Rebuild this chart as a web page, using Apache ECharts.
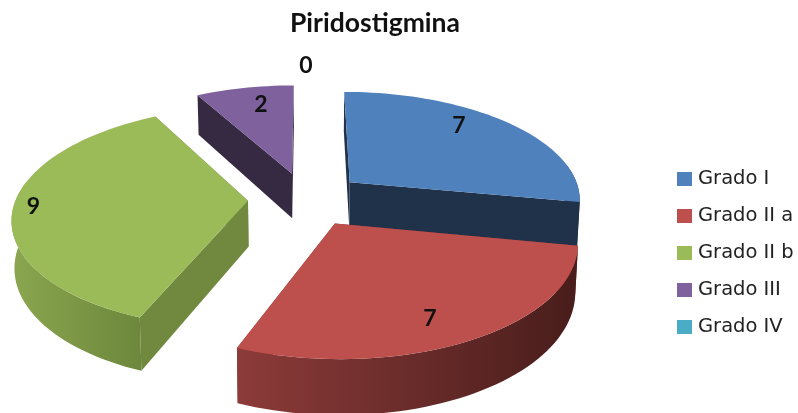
<!DOCTYPE html>
<html>
<head>
<meta charset="utf-8">
<title>Piridostigmina</title>
<script src="https://cdn.jsdelivr.net/npm/echarts@6/dist/echarts.min.js"></script>
<style>
    html, body { margin: 0; padding: 0; background: #fff; }
    #chart { width: 798px; height: 413px; }
</style>
</head>
<body>
<div id="chart"></div>
<script>
const categories = ['Grado I', 'Grado II a', 'Grado II b', 'Grado III', 'Grado IV'];
const values = [7, 7, 9, 2, 0];
const colors = ['#4f81bd', '#bd4f4c', '#9bbb59', '#7f619d', '#4bacc6'];

// pie projection, fitted to the picture
const view = { cx: 306, cy: 199, rx: 232, ry: 108, persp: 0.146, depth: 46, explode: 0.25 };
// radial wall colour, and left/right colours of the rim
const wallColors = ['#1f3249', '#8a3a39', '#71893f', '#362a42', '#25566a'];
const rimColors = [['#1f3249', '#1f3249'], ['#8c3b39', '#481d1b'], ['#8ba64f', '#6d873c'], ['#362a42', '#362a42'], ['#25566a', '#25566a']];
// where the number sits: share of the slice sweep, radius
const labelSpots = [[0.42, 0.8], [0.54, 0.81], [0.5, 0.915], [0.587, 0.78], [0.5, 1.26]];
// back to front
const drawOrder = [3, 2, 0, 1, 4];

const total = values.reduce((a, b) => a + b, 0);

function project(X, Y, drop) {
    const w = 1 + view.persp * Y;
    let x = view.cx + view.rx * X / w;
    let y = view.cy - view.ry * Y / w;
    if (drop) {
        x = view.cx + (x - view.cx) * 0.99;
        y += view.depth / w;
    }
    return [x, y];
}

function sliceRange(index) {
    let start = 0;
    for (let i = 0; i < index; i++) {
        start += values[i] / total * 360;
    }
    return [start, start + values[index] / total * 360];
}

function polar(center, deg, r) {
    const a = deg * Math.PI / 180;
    return [center[0] + r * Math.sin(a), center[1] + r * Math.cos(a)];
}

function arcPoints(center, from, to, drop) {
    const pts = [];
    const steps = Math.max(2, Math.ceil((to - from) / 2));
    for (let i = 0; i <= steps; i++) {
        const p = polar(center, from + (to - from) * i / steps, 1);
        pts.push(project(p[0], p[1], drop));
    }
    return pts;
}

function polygon(points, fill) {
    return { type: 'polygon', shape: { points: points }, style: { fill: fill }, silent: true };
}

function renderSlice(index) {
    return function (params, api) {
        const value = api.value(0);
        const range = sliceRange(index);
        const mid = (range[0] + range[1]) / 2;
        const center = polar([0, 0], mid, view.explode);
        const children = [];

        if (value > 0) {
            const apex = project(center[0], center[1], false);
            const apexLow = project(center[0], center[1], true);

            // radial walls
            [range[0], range[1]].forEach(deg => {
                const p = polar(center, deg, 1);
                children.push(polygon([apex, project(p[0], p[1], false), project(p[0], p[1], true), apexLow], wallColors[index]));
            });

            // rim, only the part turned to the viewer
            const from = Math.max(range[0], 80);
            const to = Math.min(range[1], 280);
            if (to > from) {
                const upper = arcPoints(center, from, to, false);
                const lower = arcPoints(center, from, to, true);
                const leftToRight = new echarts.graphic.LinearGradient(0, 0, 1, 0, [
                    { offset: 0, color: rimColors[index][0] },
                    { offset: 1, color: rimColors[index][1] }
                ]);
                children.push(polygon(upper.concat(lower.reverse()), leftToRight));
            }

            // top face
            children.push(polygon([apex].concat(arcPoints(center, range[0], range[1], false)), api.visual('color')));
        }

        const spot = labelSpots[index];
        const at = polar(center, range[0] + (range[1] - range[0]) * spot[0], spot[1]);
        const pos = project(at[0], at[1], false);
        children.push({
            type: 'text',
            silent: true,
            style: {
                x: pos[0],
                y: pos[1],
                text: String(value),
                fill: '#111',
                font: 'bold 23px Lato',
                align: 'center',
                verticalAlign: 'middle'
            }
        });

        return { type: 'group', children: children };
    };
}

const chart = echarts.init(document.getElementById('chart'), null, { renderer: 'canvas' });

chart.setOption({
    animation: false,
    backgroundColor: '#fff',
    title: {
        text: 'Piridostigmina',
        left: 370,
        top: 5,
        textAlign: 'center',
        textStyle: { fontFamily: 'Lato', fontWeight: 'bold', fontSize: 26.5, color: '#111' }
    },
    legend: {
        orient: 'vertical',
        left: 672,
        top: 164,
        itemWidth: 15,
        itemHeight: 14,
        itemGap: 17,
        icon: 'rect',
        selectedMode: false,
        data: categories,
        textStyle: { fontFamily: 'DejaVu Sans', fontSize: 19.5, color: '#222', padding: [0, 0, 0, 1] }
    },
    series: categories.map((name, i) => ({
        type: 'custom',
        name: name,
        coordinateSystem: 'none',
        z: 2 + drawOrder.indexOf(i),
        itemStyle: { color: colors[i] },
        renderItem: renderSlice(i),
        data: [[values[i]]]
    }))
});
</script>
</body>
</html>
